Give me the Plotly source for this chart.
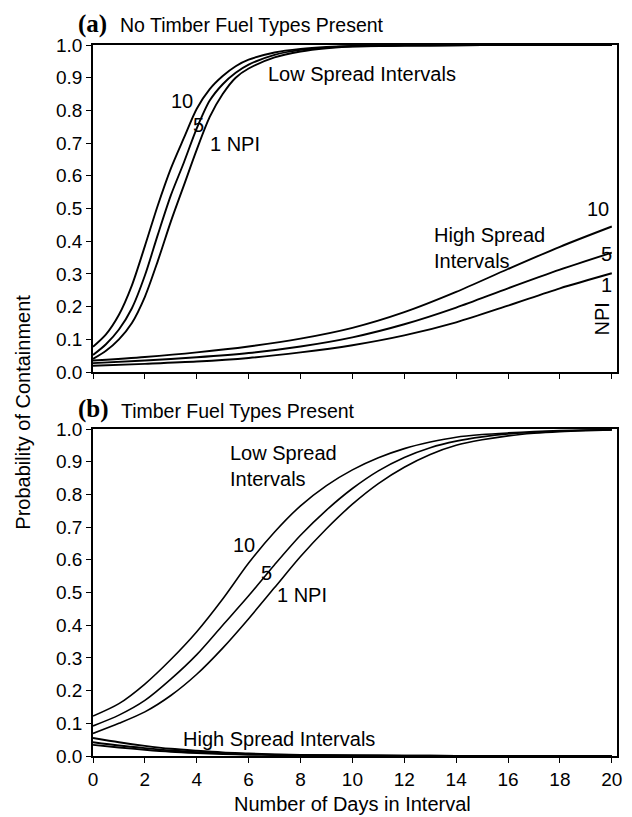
import plotly.graph_objects as go
from plotly.subplots import make_subplots

# ---------------- data ----------------
npi_levels = ["10", "5", "1"]

# Panel (a): No timber fuel types present
days_a_low = [0, 0.5, 1, 1.5, 2, 2.5, 3, 3.5, 4, 4.5, 5, 5.5, 6, 7, 8, 9, 10, 12, 14, 16, 18, 20]
a_low_npi10 = [0.077, 0.115, 0.175, 0.265, 0.385, 0.51, 0.622, 0.715, 0.805, 0.865, 0.905, 0.935, 0.955, 0.977, 0.988, 0.994, 0.997, 0.999, 1.0, 1.0, 1.0, 1.0]
a_low_npi5 = [0.052, 0.085, 0.13, 0.195, 0.295, 0.42, 0.54, 0.64, 0.745, 0.83, 0.88, 0.915, 0.94, 0.97, 0.985, 0.992, 0.996, 0.998, 0.999, 1.0, 1.0, 1.0]
a_low_npi1 = [0.04, 0.065, 0.1, 0.15, 0.23, 0.34, 0.46, 0.57, 0.68, 0.78, 0.85, 0.9, 0.928, 0.962, 0.98, 0.99, 0.995, 0.998, 0.999, 1.0, 1.0, 1.0]

days_a_high = [0, 2, 4, 6, 8, 10, 12, 14, 16, 18, 20]
a_high_npi10 = [0.035, 0.046, 0.06, 0.078, 0.102, 0.135, 0.183, 0.245, 0.315, 0.383, 0.445]
a_high_npi5 = [0.027, 0.035, 0.045, 0.058, 0.078, 0.106, 0.146, 0.197, 0.256, 0.313, 0.365]
a_high_npi1 = [0.019, 0.025, 0.032, 0.043, 0.06, 0.082, 0.112, 0.152, 0.203, 0.256, 0.302]

# Panel (b): Timber fuel types present
days_b_low = list(range(0, 21))
b_low_npi10 = [0.122, 0.16, 0.22, 0.295, 0.38, 0.48, 0.59, 0.685, 0.765, 0.827, 0.875, 0.912, 0.94, 0.96, 0.975, 0.983, 0.988, 0.992, 0.995, 0.997, 0.998]
b_low_npi5 = [0.092, 0.125, 0.17, 0.235, 0.31, 0.40, 0.49, 0.585, 0.675, 0.752, 0.818, 0.872, 0.913, 0.943, 0.963, 0.976, 0.985, 0.99, 0.994, 0.996, 0.998]
b_low_npi1 = [0.069, 0.1, 0.135, 0.185, 0.25, 0.33, 0.42, 0.515, 0.61, 0.695, 0.77, 0.833, 0.883, 0.922, 0.95, 0.967, 0.979, 0.987, 0.992, 0.995, 0.997]

days_b_high = [0, 1, 2, 3, 4, 5, 6, 7, 8, 10, 12, 14, 16, 18, 20]
b_high_npi10 = [0.055, 0.042, 0.031, 0.022, 0.016, 0.011, 0.008, 0.005, 0.0035, 0.002, 0.001, 0.0005, 0.0003, 0.0002, 0.0001]
b_high_npi5 = [0.042, 0.032, 0.024, 0.017, 0.012, 0.008, 0.006, 0.004, 0.0025, 0.0015, 0.0008, 0.0004, 0.0002, 0.0001, 0.0001]
b_high_npi1 = [0.034, 0.026, 0.019, 0.013, 0.009, 0.006, 0.004, 0.003, 0.002, 0.001, 0.0005, 0.0003, 0.0001, 0.0001, 0.0]

x_ticks = list(range(0, 21, 2))
y_ticks = [round(i * 0.1, 1) for i in range(11)]

# ---------------- figure ----------------
W, H = 632, 817
ML, MR, MT, MB = 93, 10, 45, 61
plot_w = W - ML - MR
plot_h = H - MT - MB
top_dom = [(756 - 372) / plot_h, 1.0]
bot_dom = [0.0, (756 - 429) / plot_h]

fig = make_subplots(rows=2, cols=1, shared_xaxes=False, vertical_spacing=0.05)

SANS = "Liberation Sans, Arial, sans-serif"
SERIF = "Liberation Serif, Times New Roman, serif"

def add_lines(days, series, row, width):
    for ys in series:
        fig.add_trace(go.Scatter(x=days, y=ys, mode="lines",
                                 line=dict(color="black", width=width, shape="spline", smoothing=0.8),
                                 showlegend=False, hoverinfo="skip"), row=row, col=1)

add_lines(days_a_low, [a_low_npi10, a_low_npi5, a_low_npi1], 1, 1.9)
add_lines(days_a_high, [a_high_npi10, a_high_npi5, a_high_npi1], 1, 1.9)
add_lines(days_b_low, [b_low_npi10, b_low_npi5, b_low_npi1], 2, 1.6)
add_lines(days_b_high, [b_high_npi10, b_high_npi5, b_high_npi1], 2, 1.9)

axis_common = dict(showline=True, linecolor="black", linewidth=1.5, mirror=True,
                   showgrid=False, zeroline=False, ticks="outside", ticklen=5,
                   tickwidth=1, tickcolor="black",
                   tickfont=dict(family=SANS, size=19, color="black"))

fig.update_xaxes(range=[0, 20.2], tickvals=x_ticks, **axis_common)
fig.update_xaxes(showticklabels=False, row=1, col=1)
fig.update_yaxes(range=[0, 1.0], tickvals=y_ticks, tickformat=".1f", **axis_common)

fig.update_layout(
    width=W, height=H,
    margin=dict(l=ML, r=MR, t=MT, b=MB),
    paper_bgcolor="white", plot_bgcolor="white",
    showlegend=False,
    xaxis=dict(domain=[0, 1]), xaxis2=dict(domain=[0, 1]),
    yaxis=dict(domain=top_dom), yaxis2=dict(domain=bot_dom),
)

def ann(text, x, y, row, size=20, xanchor="center", yanchor="middle", angle=0, align="center", family=SANS):
    xr = "x" if row == 1 else "x2"
    yr = "y" if row == 1 else "y2"
    fig.add_annotation(text=text, x=x, y=y, xref=xr, yref=yr, showarrow=False,
                       xanchor=xanchor, yanchor=yanchor, textangle=angle, align=align,
                       font=dict(family=family, size=size, color="black"))

def pann(text, px, py, size=20, xanchor="center", yanchor="middle", angle=0, family=SANS):
    fig.add_annotation(text=text, xref="paper", yref="paper",
                       x=(px - ML) / plot_w, y=(756 - py) / plot_h, showarrow=False,
                       xanchor=xanchor, yanchor=yanchor, textangle=angle,
                       font=dict(family=family, size=size, color="black"))

# Panel titles
pann("<b>(a)</b>", 76, 24, size=25, xanchor="left", family=SERIF)
pann("No Timber Fuel Types Present", 118, 25, size=19.5, xanchor="left")
pann("<b>(b)</b>", 76, 409, size=25, xanchor="left", family=SERIF)
pann("Timber Fuel Types Present", 119, 411, size=19.5, xanchor="left")

# Panel (a) labels
ann("10", 3.44, 0.829, 1)
ann("5", 4.05, 0.755, 1)
ann("1 NPI", 5.49, 0.698, 1)
ann("Low Spread Intervals", 10.37, 0.911, 1)
ann("High Spread<br>Intervals", 13.06, 0.379, 1, xanchor="left", align="left")
ann("10", 19.47, 0.498, 1)
ann("5", 19.78, 0.361, 1)
ann("1", 19.78, 0.266, 1)
ann("NPI", 19.64, 0.162, 1, angle=-90)

# Panel (b) labels
ann("Low Spread<br>Intervals", 5.22, 0.887, 2, xanchor="left", align="left")
ann("10", 5.82, 0.644, 2)
ann("5", 6.68, 0.561, 2)
ann("1 NPI", 8.06, 0.492, 2)
ann("High Spread Intervals", 7.18, 0.052, 2)

# Axis titles
pann("Probability of Containment", 22, 412, size=20, angle=-90)
pann("Number of Days in Interval", 355, 804, size=20)

fig.write_html("out.html", config={"displayModeBar": False},
               post_script="document.body.style.margin='0px';")
